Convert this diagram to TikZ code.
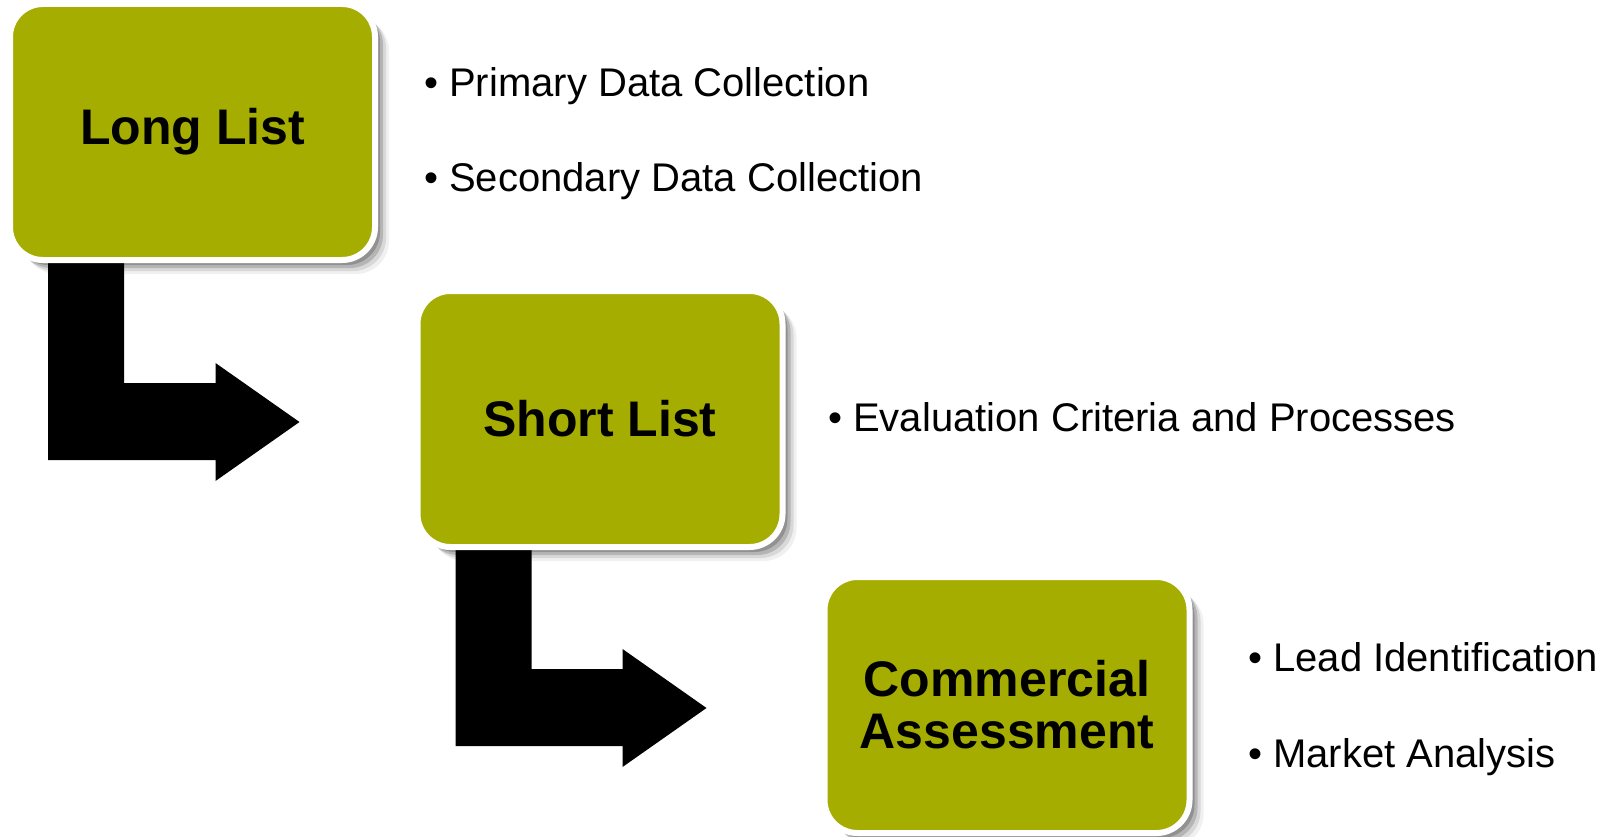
\documentclass[tikz,border=0pt]{standalone}
\usepackage{fontspec}
\setmainfont{Liberation Sans}
\usetikzlibrary{shadows,calc,backgrounds}

\definecolor{olivebox}{RGB}{165,173,0}

\tikzset{
  stagebox/.style={rectangle, rounded corners=33pt, fill=olivebox, draw=white, line width=6pt,
    minimum width=365pt, minimum height=256pt, align=center,
    font=\fontsize{50}{52}\selectfont\bfseries,
    drop shadow={shadow xshift=5pt, shadow yshift=-5pt, opacity=.2, fill=black},
    drop shadow={shadow xshift=8pt, shadow yshift=-8pt, opacity=.16, fill=black},
    drop shadow={shadow xshift=11pt, shadow yshift=-11pt, opacity=.1, fill=black},
    drop shadow={shadow xshift=14pt, shadow yshift=-14pt, opacity=.06, fill=black}},
  item/.style={anchor=base west, inner sep=0pt, font=\fontsize{40}{48}\selectfont},
  elbow/.style={fill=black}
}

\begin{document}
\begin{tikzpicture}[x=1pt, y=-1pt]
    \useasboundingbox (0,0) rectangle (1611,837);

    \node[stagebox] (ll) at (192.5,132) {Long List};

    \node[stagebox] (sl) at (600,419) {Short List};

    \node[stagebox] (ca) at (1007,705) {Commercial\\Assessment};


    \node[item] (p1) at (424,97) {• Primary Data Collection};

    \node[item] (p2) at (424,192) {• Secondary Data Collection};

    \node[item] (e1) at (828,431) {• Evaluation Criteria and Processes};

    \node[item] (l1) at (1248,671) {• Lead Identification};

    \node[item] (l2) at (1248,767) {• Market Analysis};


    \coordinate (t1) at ([xshift=-115pt, yshift=-3pt]sl.west);
    \coordinate (t2) at ([xshift=-115pt, yshift=-3pt]ca.west);

    \begin{pgfonlayer}{background}
    \fill[elbow] ([xshift=41pt]ll.south west) -- ([xshift=117pt]ll.south west)
        |- ($(t1)+(-84,-39)$) -- ++(0,-20) -- (t1) -- ++(-84,59) -- ++(0,-21)
        -| ([xshift=41pt]ll.south west) -- cycle;

    \fill[elbow] ([xshift=41pt]sl.south west) -- ([xshift=117pt]sl.south west)
        |- ($(t2)+(-84,-39)$) -- ++(0,-20) -- (t2) -- ++(-84,59) -- ++(0,-21)
        -| ([xshift=41pt]sl.south west) -- cycle;
    \end{pgfonlayer}

\end{tikzpicture}
\end{document}
